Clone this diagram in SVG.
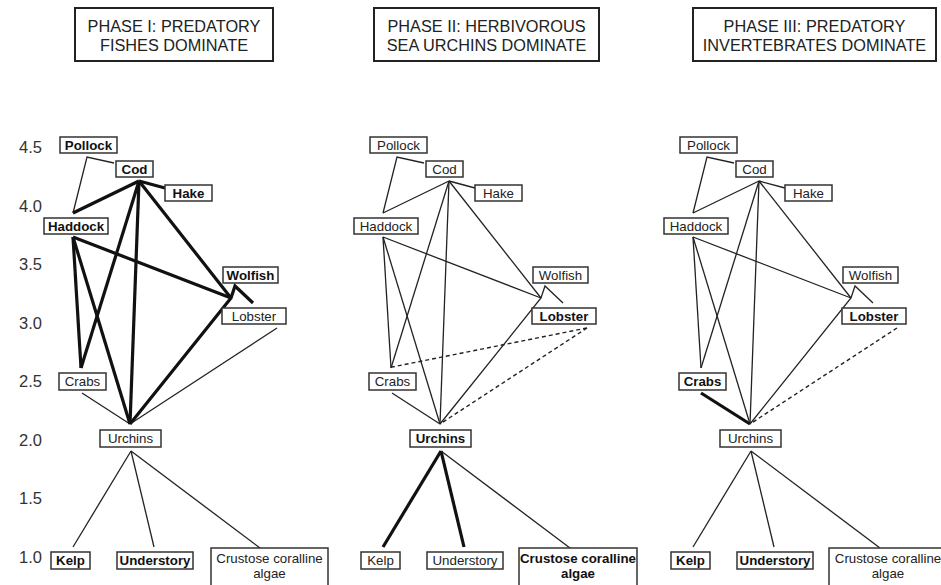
<svg xmlns="http://www.w3.org/2000/svg" width="941" height="585" viewBox="0 0 941 585">
<style>
  .title-box{fill:#fff;stroke:#222;stroke-width:2}
  .title{font-family:"Liberation Sans",Arial,sans-serif;font-size:16.3px;fill:#222;text-anchor:middle}
  .axis{font-family:"Liberation Sans",Arial,sans-serif;font-size:16.5px;fill:#333;text-anchor:end}
  .box{fill:#fff;stroke:#333;stroke-width:1.5}
  .lbl{font-family:"Liberation Sans",Arial,sans-serif;font-size:13.3px;fill:#222;text-anchor:middle}
  .b{font-weight:bold;fill:#111}
  .thin{fill:none;stroke:#222;stroke-width:1.3;stroke-linejoin:miter}
  .thick{fill:none;stroke:#111;stroke-width:3.2;stroke-linejoin:miter}
  .dash{fill:none;stroke:#222;stroke-width:1.4;stroke-dasharray:4 3}
</style>

<!-- Titles -->
<g id="title1"><rect class="title-box" x="75" y="8" width="198" height="53"/><text class="title" x="174" y="32">PHASE I: PREDATORY</text><text class="title" x="174" y="51">FISHES DOMINATE</text></g>
<g id="title2"><rect class="title-box" x="374" y="8" width="225" height="53"/><text class="title" x="486.5" y="32">PHASE II: HERBIVOROUS</text><text class="title" x="486.5" y="51">SEA URCHINS DOMINATE</text></g>
<g id="title3"><rect class="title-box" x="693" y="8" width="243" height="53"/><text class="title" x="814.5" y="32">PHASE III: PREDATORY</text><text class="title" x="814.5" y="51">INVERTEBRATES DOMINATE</text></g>

<!-- Axis -->
<g id="axis">
  <text class="axis" x="42" y="153">4.5</text>
  <text class="axis" x="42" y="211.5">4.0</text>
  <text class="axis" x="42" y="270">3.5</text>
  <text class="axis" x="42" y="328.5">3.0</text>
  <text class="axis" x="42" y="387">2.5</text>
  <text class="axis" x="42" y="445.5">2.0</text>
  <text class="axis" x="42" y="504">1.5</text>
  <text class="axis" x="42" y="562.5">1.0</text>
</g>

<!-- Panel 1 -->
<g id="panel1">
  <g id="p1-connectors">
    <polyline class="thin" points="114,163 87,157 73,213"/>
    <line class="thin" x1="277" y1="328" x2="130" y2="424"/>
    <line class="thin" x1="82" y1="393" x2="130" y2="424"/>
    <line class="thin" x1="131" y1="451" x2="73" y2="547"/>
    <line class="thin" x1="131" y1="451" x2="154" y2="547"/>
    <line class="thin" x1="131" y1="451" x2="260" y2="548"/>
    <line class="thick" x1="73" y1="213" x2="139" y2="181"/>
    <line class="thick" x1="139" y1="181" x2="165" y2="188"/>
    <line class="thick" x1="139" y1="181" x2="231" y2="298"/>
    <line class="thick" x1="73" y1="237" x2="231" y2="298"/>
    <polyline class="thick" points="130,424 231,298 235,286 253,303"/>
    <line class="thick" x1="139" y1="181" x2="81" y2="368"/>
    <line class="thick" x1="139" y1="181" x2="130" y2="424"/>
    <line class="thick" x1="73" y1="237" x2="81" y2="368"/>
    <line class="thick" x1="73" y1="237" x2="130" y2="424"/>
  </g>
  <g id="p1-pollock"><rect class="box" x="60" y="137" width="57" height="16"/><text class="lbl b" x="88.5" y="149.5">Pollock</text></g>
  <g id="p1-cod"><rect class="box" x="116" y="161" width="37" height="16"/><text class="lbl b" x="134.5" y="173.5">Cod</text></g>
  <g id="p1-hake"><rect class="box" x="165" y="185" width="47" height="16"/><text class="lbl b" x="188.5" y="197.5">Hake</text></g>
  <g id="p1-haddock"><rect class="box" x="44" y="218" width="64" height="16"/><text class="lbl b" x="76" y="230.5">Haddock</text></g>
  <g id="p1-wolfish"><rect class="box" x="223" y="267" width="55" height="16"/><text class="lbl b" x="250.5" y="279.5">Wolfish</text></g>
  <g id="p1-lobster"><rect class="box" x="222" y="308" width="64" height="16"/><text class="lbl" x="254" y="320.5">Lobster</text></g>
  <g id="p1-crabs"><rect class="box" x="59" y="373" width="47" height="17"/><text class="lbl" x="82.5" y="386">Crabs</text></g>
  <g id="p1-urchins"><rect class="box" x="100" y="430" width="61" height="17"/><text class="lbl" x="130.5" y="443">Urchins</text></g>
  <g id="p1-kelp"><rect class="box" x="51" y="552" width="39" height="17"/><text class="lbl b" x="70.5" y="565">Kelp</text></g>
  <g id="p1-understory"><rect class="box" x="117" y="552" width="76" height="17"/><text class="lbl b" x="155" y="565">Understory</text></g>
  <g id="p1-crustose"><rect class="box" x="211" y="548" width="117" height="45"/><text class="lbl" x="269.5" y="563">Crustose coralline</text><text class="lbl" x="269.5" y="578">algae</text></g>
</g>

<!-- Panel 2 -->
<g id="panel2" transform="translate(310,0)">
  <g id="p2-connectors">
    <polyline class="thin" points="114,163 87,157 73,213"/>
    <line class="dash" x1="277" y1="328" x2="130" y2="424"/>
    <line class="dash" x1="277" y1="328" x2="82" y2="367"/>
    <line class="thin" x1="82" y1="393" x2="130" y2="424"/>
    <line class="thick" x1="131" y1="451" x2="73" y2="547"/>
    <line class="thick" x1="131" y1="451" x2="154" y2="547"/>
    <line class="thin" x1="131" y1="451" x2="260" y2="548"/>
    <line class="thin" x1="73" y1="213" x2="139" y2="181"/>
    <line class="thin" x1="139" y1="181" x2="165" y2="188"/>
    <line class="thin" x1="139" y1="181" x2="231" y2="298"/>
    <line class="thin" x1="73" y1="237" x2="231" y2="298"/>
    <polyline class="thin" points="130,424 231,298 235,286 253,303"/>
    <line class="thin" x1="139" y1="181" x2="81" y2="368"/>
    <line class="thin" x1="139" y1="181" x2="130" y2="424"/>
    <line class="thin" x1="73" y1="237" x2="81" y2="368"/>
    <line class="thin" x1="73" y1="237" x2="130" y2="424"/>
  </g>
  <g id="p2-pollock"><rect class="box" x="60" y="137" width="57" height="16"/><text class="lbl" x="88.5" y="149.5">Pollock</text></g>
  <g id="p2-cod"><rect class="box" x="116" y="161" width="37" height="16"/><text class="lbl" x="134.5" y="173.5">Cod</text></g>
  <g id="p2-hake"><rect class="box" x="165" y="185" width="47" height="16"/><text class="lbl" x="188.5" y="197.5">Hake</text></g>
  <g id="p2-haddock"><rect class="box" x="44" y="218" width="64" height="16"/><text class="lbl" x="76" y="230.5">Haddock</text></g>
  <g id="p2-wolfish"><rect class="box" x="223" y="267" width="55" height="16"/><text class="lbl" x="250.5" y="279.5">Wolfish</text></g>
  <g id="p2-lobster"><rect class="box" x="222" y="308" width="64" height="16"/><text class="lbl b" x="254" y="320.5">Lobster</text></g>
  <g id="p2-crabs"><rect class="box" x="59" y="373" width="47" height="17"/><text class="lbl" x="82.5" y="386">Crabs</text></g>
  <g id="p2-urchins"><rect class="box" x="100" y="430" width="61" height="17"/><text class="lbl b" x="130.5" y="443">Urchins</text></g>
  <g id="p2-kelp"><rect class="box" x="51" y="552" width="39" height="17"/><text class="lbl" x="70.5" y="565">Kelp</text></g>
  <g id="p2-understory"><rect class="box" x="117" y="552" width="76" height="17"/><text class="lbl" x="155" y="565">Understory</text></g>
  <g id="p2-crustose"><rect class="box" x="209" y="548" width="118" height="45"/><text class="lbl b" x="268" y="563">Crustose coralline</text><text class="lbl b" x="268" y="578">algae</text></g>
</g>

<!-- Panel 3 -->
<g id="panel3" transform="translate(620,0)">
  <g id="p3-connectors">
    <polyline class="thin" points="114,163 87,157 73,213"/>
    <line class="dash" x1="277" y1="328" x2="130" y2="424"/>
    <line class="thick" x1="81" y1="393" x2="130" y2="424"/>
    <line class="thin" x1="131" y1="451" x2="73" y2="547"/>
    <line class="thin" x1="131" y1="451" x2="154" y2="547"/>
    <line class="thin" x1="131" y1="451" x2="260" y2="548"/>
    <line class="thin" x1="73" y1="213" x2="139" y2="181"/>
    <line class="thin" x1="139" y1="181" x2="165" y2="188"/>
    <line class="thin" x1="139" y1="181" x2="231" y2="298"/>
    <line class="thin" x1="73" y1="237" x2="231" y2="298"/>
    <polyline class="thin" points="130,424 231,298 235,286 253,303"/>
    <line class="thin" x1="139" y1="181" x2="81" y2="368"/>
    <line class="thin" x1="139" y1="181" x2="130" y2="424"/>
    <line class="thin" x1="73" y1="237" x2="81" y2="368"/>
    <line class="thin" x1="73" y1="237" x2="130" y2="424"/>
  </g>
  <g id="p3-pollock"><rect class="box" x="60" y="137" width="57" height="16"/><text class="lbl" x="88.5" y="149.5">Pollock</text></g>
  <g id="p3-cod"><rect class="box" x="116" y="161" width="37" height="16"/><text class="lbl" x="134.5" y="173.5">Cod</text></g>
  <g id="p3-hake"><rect class="box" x="165" y="185" width="47" height="16"/><text class="lbl" x="188.5" y="197.5">Hake</text></g>
  <g id="p3-haddock"><rect class="box" x="44" y="218" width="64" height="16"/><text class="lbl" x="76" y="230.5">Haddock</text></g>
  <g id="p3-wolfish"><rect class="box" x="223" y="267" width="55" height="16"/><text class="lbl" x="250.5" y="279.5">Wolfish</text></g>
  <g id="p3-lobster"><rect class="box" x="222" y="308" width="64" height="16"/><text class="lbl b" x="254" y="320.5">Lobster</text></g>
  <g id="p3-crabs"><rect class="box" x="59" y="373" width="47" height="17"/><text class="lbl b" x="82.5" y="386">Crabs</text></g>
  <g id="p3-urchins"><rect class="box" x="100" y="430" width="61" height="17"/><text class="lbl" x="130.5" y="443">Urchins</text></g>
  <g id="p3-kelp"><rect class="box" x="51" y="552" width="39" height="17"/><text class="lbl b" x="70.5" y="565">Kelp</text></g>
  <g id="p3-understory"><rect class="box" x="117" y="552" width="76" height="17"/><text class="lbl b" x="155" y="565">Understory</text></g>
  <g id="p3-crustose"><rect class="box" x="209" y="548" width="118" height="45"/><text class="lbl" x="268" y="563">Crustose coralline</text><text class="lbl" x="268" y="578">algae</text></g>
</g>
</svg>
